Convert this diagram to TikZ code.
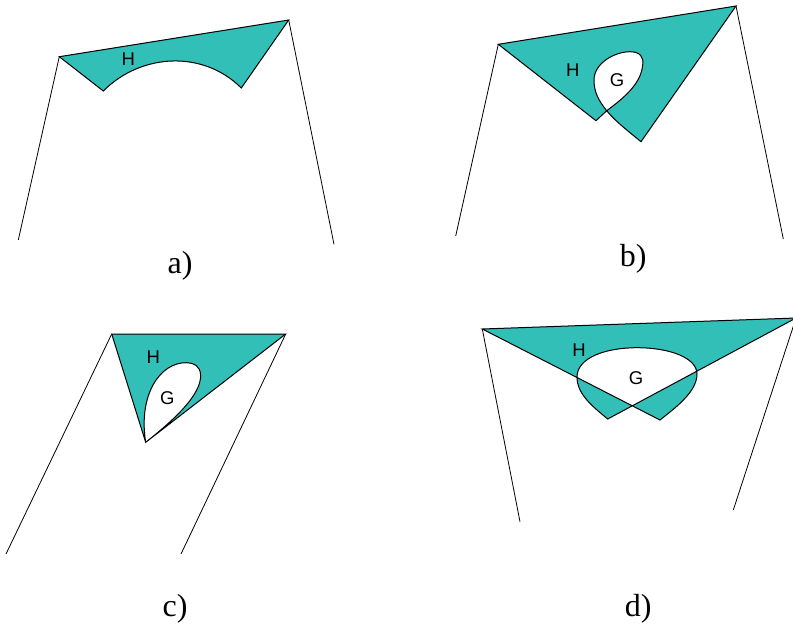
\documentclass[tikz,border=0pt]{standalone}
\usepackage{fontspec}
\setmainfont{Liberation Serif}
\newfontfamily\lsans{Liberation Sans}
\definecolor{tealfill}{RGB}{49,191,184}
\begin{document}
\begin{tikzpicture}[x=1pt,y=-1pt,
  wire/.style={line width=0.8pt},
  region/.style={fill=tealfill,draw=black,line width=1pt,even odd rule},
  lbl/.style={font=\lsans\fontsize{18.5}{18.5}\selectfont,inner sep=0pt},
  capt/.style={font=\fontsize{32}{32}\selectfont,inner sep=0pt}]
\useasboundingbox (0,0) rectangle (793,625);
\clip (0,0) rectangle (793,625);
% ---------- panel a
\coordinate (aL) at (59.3,56.7);
\coordinate (aR) at (288.7,20);
\coordinate (aBR) at (241.3,88);
\coordinate (aBL) at (103.3,91);
\coordinate (aLe) at (18.3,240);
\coordinate (aRe) at (334,244.3);
\draw[wire] (aL) -- (aLe);
\draw[wire] (aR) -- (aRe);
\path[region] (aL) -- (aR) -- (aBR) .. controls (203.3,50) and (141.3,53) .. (aBL) -- cycle;
\node[lbl] (aH) at (128.3,59.5) {H};
\node[capt] (acap) at (180,265.5) {a)};
% ---------- panel b
\coordinate (bL) at (498.3,44.3);
\coordinate (bR) at (736,6);
\coordinate (bB1) at (641,141.7);
\coordinate (bX) at (606.7,110.7);
\coordinate (bB2) at (596,120.7);
\coordinate (bLe) at (455.7,236);
\coordinate (bRe) at (783.3,239);
\draw[wire] (bL) -- (bLe);
\draw[wire] (bR) -- (bRe);
\path[region] (bL) -- (bR) -- (bB1)
  .. controls (628,131) and (615,121) .. (bX)
  .. controls (598.5,100.5) and (594,92) .. (594,80)
  .. controls (594,63) and (615,51.7) .. (630,51.7)
  .. controls (640,51.7) and (644,57) .. (642.7,65)
  .. controls (641,82) and (628,95) .. (bX)
  -- (bB2) -- cycle;
\node[lbl] (bH) at (572.7,70.5) {H};
\node[lbl] (bG) at (617,80) {G};
\node[capt] (bcap) at (633.3,258.3) {b)};
% ---------- panel c
\coordinate (cL) at (111.7,334);
\coordinate (cR) at (285.7,334);
\coordinate (cV) at (145.7,442.3);
\coordinate (cLe) at (6,554);
\coordinate (cRe) at (181,554);
\draw[wire] (cL) -- (cLe);
\draw[wire] (cR) -- (cRe);
\path[region] (cL) -- (cR) -- (cV) -- cycle
  (cV) .. controls (175,419) and (201,395) .. (200.7,375)
  .. controls (200,366) and (194,362.7) .. (186.7,362.7)
  .. controls (160,362) and (138,395) .. (cV) -- cycle;
\node[lbl] (cH) at (153.3,357.3) {H};
\node[lbl] (cG) at (167.3,398.3) {G};
\node[capt] (ccap) at (175,609) {c)};
% ---------- panel d
\coordinate (dL) at (482.3,329);
\coordinate (dR) at (796,318);
\coordinate (dBL) at (607.7,419);
\coordinate (dBR) at (660,420);
\coordinate (dLe) at (520,521.7);
\coordinate (dRe) at (733.3,510);
\draw[wire] (dL) -- (dLe);
\draw[wire] (dR) -- (dRe);
\path[region] (dL) -- (dR) -- (dBL)
  .. controls (592,406) and (577,394) .. (577,377)
  .. controls (577,358) and (605,347.7) .. (637,347.7)
  .. controls (670,347.7) and (697,358) .. (697,374)
  .. controls (697,392) and (675,408) .. (dBR) -- cycle;
\node[lbl] (dH) at (579,350) {H};
\node[lbl] (dG) at (636,378.3) {G};
\node[capt] (dcap) at (638.3,608.3) {d)};
\end{tikzpicture}
\end{document}
